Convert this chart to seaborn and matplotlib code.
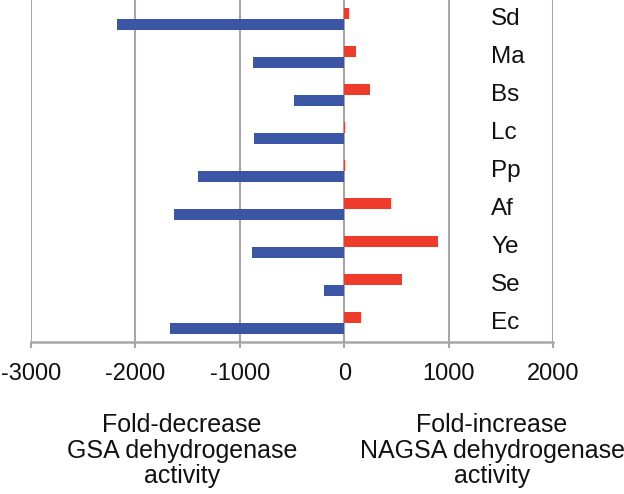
import matplotlib
matplotlib.use("Agg")
import matplotlib.pyplot as plt
import seaborn as sns
import pandas as pd

organisms = ["Sd", "Ma", "Bs", "Lc", "Pp", "Af", "Ye", "Se", "Ec"]
nagsa_increase = [50, 115, 250, 12, 12, 450, 895, 550, 165]
gsa_decrease = [-2180, -875, -480, -865, -1405, -1635, -885, -190, -1665]
series = ["NAGSA", "GSA"]
colors = {"NAGSA": "#EE3B2B", "GSA": "#3C56A6"}

df = pd.concat([
    pd.DataFrame({"org": organisms, "value": nagsa_increase, "series": "NAGSA"}),
    pd.DataFrame({"org": organisms, "value": gsa_decrease, "series": "GSA"}),
])

sns.set_theme(style="white")
plt.rcParams["font.family"] = ["Liberation Sans", "DejaVu Sans"]
plt.rcParams["axes.unicode_minus"] = False

fig = plt.figure(figsize=(6.24, 4.94), dpi=100)
ax = fig.add_axes([31 / 624, 1 - 342 / 494, 522 / 624, 342 / 494])
sns.barplot(data=df, x="value", y="org", hue="series", order=organisms,
            hue_order=series, palette=colors, orient="h", width=0.6,
            dodge=True, saturation=1, legend=False, linewidth=0, ax=ax)

grey = "#A6A6A6"
ax.set_xlim(-3000, 2000)
ax.set_ylim(8.5, -0.5)
ax.set_xticks(range(-3000, 2001, 1000))
ax.xaxis.grid(True, color=grey, lw=1.5)
ax.set_axisbelow(True)
for s in ["top", "left", "right"]:
    ax.spines[s].set_visible(False)
ax.spines["bottom"].set_color(grey)
ax.spines["bottom"].set_linewidth(1.8)
ax.set_yticks([])
ax.tick_params(axis="x", bottom=True, direction="out", length=4, width=1.5,
               color=grey, labelsize=17, pad=11, labelcolor="#111111")
ax.set_xlabel("")
ax.set_ylabel("")

for i, name in enumerate(organisms):
    ax.text(1410, i, name, va="center", ha="left", fontsize=17.5, color="#111111")

fig.text(182 / 624, 1 - 413 / 494, "Fold-decrease\nGSA dehydrogenase\nactivity",
         ha="center", va="top", fontsize=18, linespacing=1.08, color="#111111")
fig.text(492 / 624, 1 - 413 / 494, "Fold-increase\nNAGSA dehydrogenase\nactivity",
         ha="center", va="top", fontsize=18, linespacing=1.08, color="#111111")

fig.savefig("out.png", dpi=100, facecolor="white")
